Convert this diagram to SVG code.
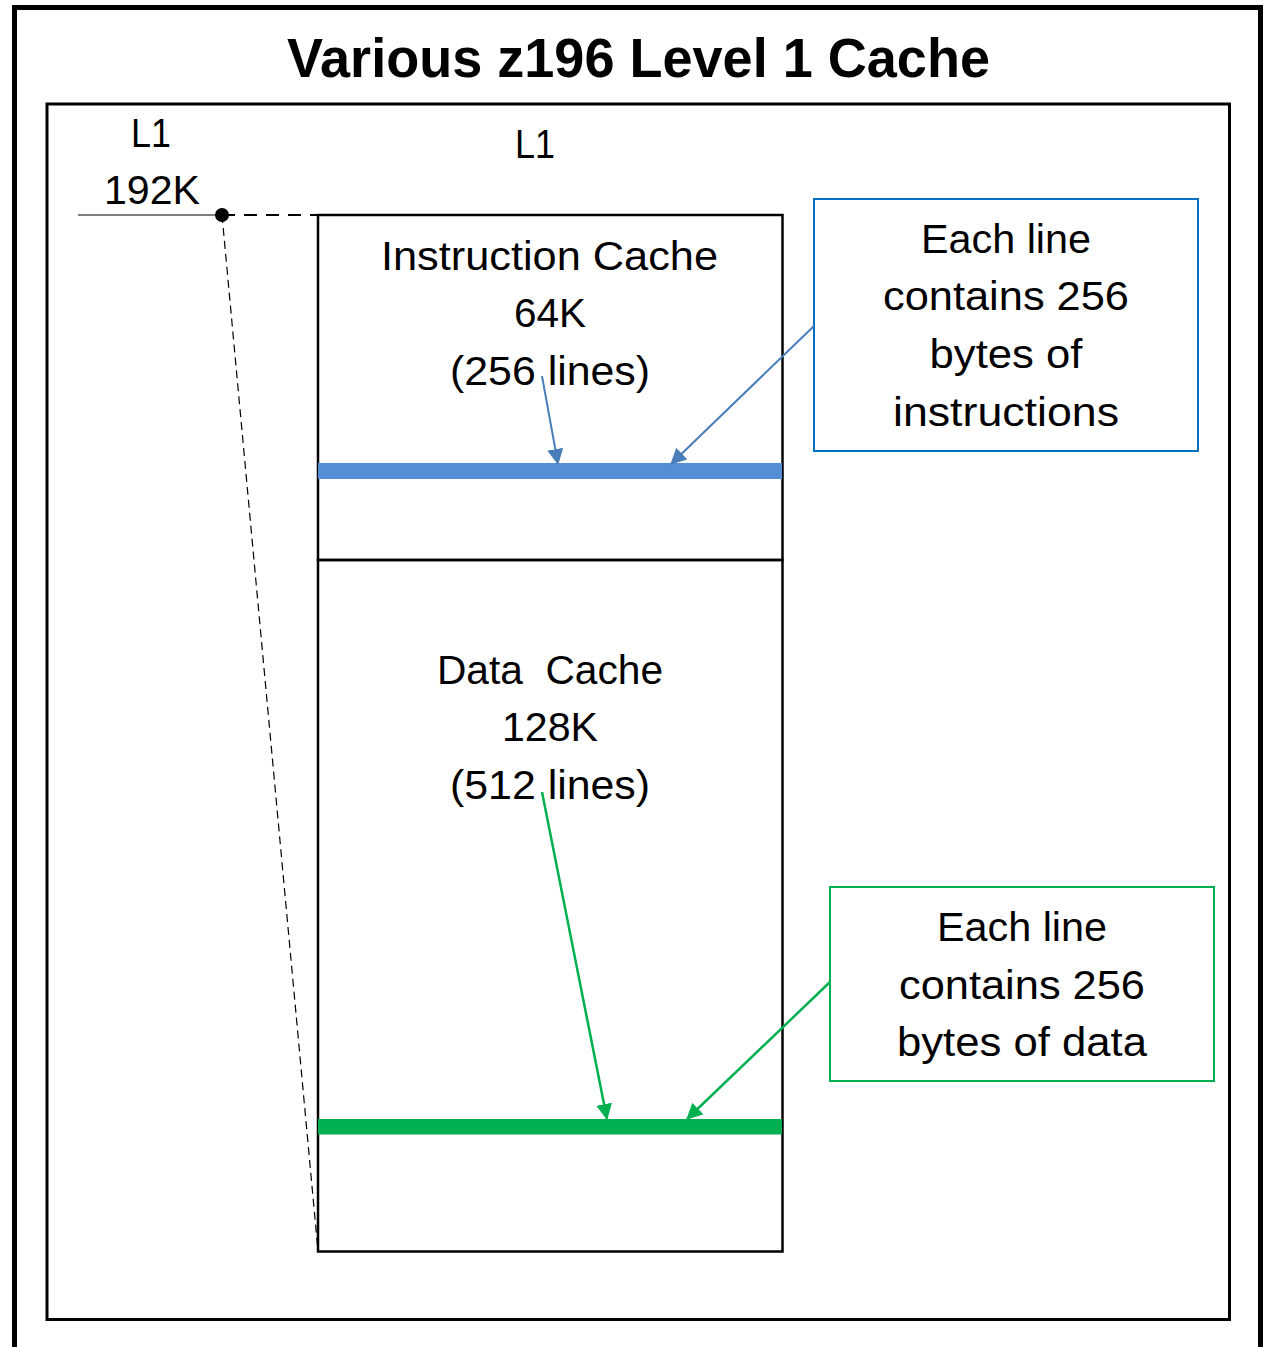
<svg xmlns="http://www.w3.org/2000/svg" width="1270" height="1347" viewBox="0 0 1270 1347">
  <style>
    .t { font-family: "Liberation Sans", Arial, sans-serif; font-size: 40px; fill: #000; text-anchor: middle; }
    .title { font-family: "Liberation Sans", Arial, sans-serif; font-size: 56px; font-weight: bold; fill: #000; text-anchor: middle; }
    .frame { fill: none; stroke: #000; }
  </style>
  <defs>
    <marker id="ahBlue" markerUnits="userSpaceOnUse" markerWidth="16" markerHeight="16" refX="15" refY="8" orient="auto">
      <path d="M0,0 L16,8 L0,16 z" fill="#4A7EBB"/>
    </marker>
    <marker id="ahGreen" markerUnits="userSpaceOnUse" markerWidth="16" markerHeight="16" refX="15" refY="8" orient="auto">
      <path d="M0,0 L16,8 L0,16 z" fill="#00B050"/>
    </marker>
  </defs>
  <rect width="1270" height="1347" fill="#fff"/>
  <g id="frame">
    <path class="frame" d="M14.5,1360 V7.5 H1260.5 V1360" stroke-width="5"/>
    <rect class="frame" x="47" y="104" width="1182.5" height="1215.5" stroke-width="3"/>
    <text class="title" x="638.5" y="77" textLength="703" lengthAdjust="spacingAndGlyphs">Various z196 Level 1 Cache</text>
  </g>
  <g id="l1-label">
    <text class="t" x="151" y="147" textLength="40" lengthAdjust="spacingAndGlyphs">L1</text>
    <text class="t" x="152" y="204" textLength="96" lengthAdjust="spacingAndGlyphs">192K</text>
  </g>
  <g id="l1-title">
    <text class="t" x="535" y="158" textLength="40" lengthAdjust="spacingAndGlyphs">L1</text>
  </g>
  <g id="instruction-cache">
    <rect x="318" y="215" width="464.5" height="345" fill="none" stroke="#000" stroke-width="2.5"/>
    <rect x="318" y="463" width="464" height="16" fill="#558ED5"/>
    <text class="t" x="549.5" y="270" textLength="337" lengthAdjust="spacingAndGlyphs">Instruction Cache</text>
    <text class="t" x="550" y="327" textLength="72" lengthAdjust="spacingAndGlyphs">64K</text>
    <text class="t" x="550" y="385" textLength="200" lengthAdjust="spacingAndGlyphs">(256 lines)</text>
  </g>
  <g id="data-cache">
    <rect x="318" y="560" width="464.5" height="691.5" fill="none" stroke="#000" stroke-width="2.5"/>
    <rect x="318" y="1119" width="464" height="15.5" fill="#00B050"/>
    <text class="t" x="550" y="684" textLength="226" lengthAdjust="spacingAndGlyphs" xml:space="preserve">Data  Cache</text>
    <text class="t" x="550" y="741" textLength="96" lengthAdjust="spacingAndGlyphs">128K</text>
    <text class="t" x="550" y="799" textLength="200" lengthAdjust="spacingAndGlyphs">(512 lines)</text>
  </g>
  <g id="note-instructions">
    <rect x="814" y="199" width="384" height="252" fill="none" stroke="#0070C0" stroke-width="2"/>
    <text class="t" x="1006" y="253" textLength="170" lengthAdjust="spacingAndGlyphs">Each line</text>
    <text class="t" x="1006" y="310" textLength="246" lengthAdjust="spacingAndGlyphs">contains 256</text>
    <text class="t" x="1006" y="368" textLength="153" lengthAdjust="spacingAndGlyphs">bytes of</text>
    <text class="t" x="1006" y="426" textLength="226" lengthAdjust="spacingAndGlyphs">instructions</text>
  </g>
  <g id="note-data">
    <rect x="830" y="887" width="384" height="194" fill="none" stroke="#00B050" stroke-width="2"/>
    <text class="t" x="1022" y="941" textLength="170" lengthAdjust="spacingAndGlyphs">Each line</text>
    <text class="t" x="1022" y="999" textLength="246" lengthAdjust="spacingAndGlyphs">contains 256</text>
    <text class="t" x="1022" y="1056" textLength="250" lengthAdjust="spacingAndGlyphs">bytes of data</text>
  </g>
  <g id="connectors">
    <line x1="78" y1="215" x2="222" y2="215" stroke="#000" stroke-width="1.2"/>
    <line x1="222" y1="215" x2="318" y2="215" stroke="#000" stroke-width="2.2" stroke-dasharray="13,9"/>
    <line x1="222" y1="215" x2="318" y2="1251" stroke="#000" stroke-width="1.2" stroke-dasharray="8,5"/>
    <circle cx="222" cy="215" r="7" fill="#000"/>
    <line x1="542" y1="376" x2="558" y2="464" stroke="#4A7EBB" stroke-width="2" marker-end="url(#ahBlue)"/>
    <line x1="814" y1="326" x2="671" y2="464" stroke="#4A7EBB" stroke-width="2" marker-end="url(#ahBlue)"/>
    <line x1="542" y1="792" x2="607" y2="1119" stroke="#00B050" stroke-width="2.5" marker-end="url(#ahGreen)"/>
    <line x1="830" y1="982" x2="687" y2="1119" stroke="#00B050" stroke-width="2.5" marker-end="url(#ahGreen)"/>
  </g>
</svg>
